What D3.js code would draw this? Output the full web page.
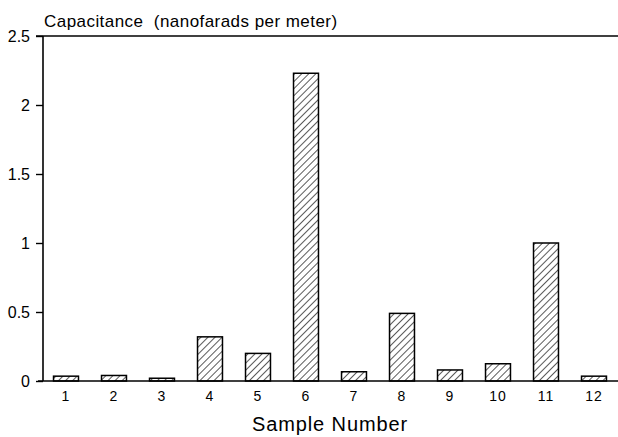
<!DOCTYPE html>
<html>
<head>
<meta charset="utf-8">
<title>Capacitance</title>
<script src="https://d3js.org/d3.v7.min.js"></script>
<style>
  body { margin: 0; background: #fff; }
  text { font-family: "Liberation Sans", Arial, sans-serif; fill: #000; }
</style>
</head>
<body>
<script>
// values
var samples = ["1", "2", "3", "4", "5", "6", "7", "8", "9", "10", "11", "12"];
var capacitance = [0.035, 0.04, 0.02, 0.32, 0.2, 2.23, 0.067, 0.49, 0.08, 0.125, 1.0, 0.035];
var yTicks = [0, 0.5, 1, 1.5, 2, 2.5];

// note: "top" is a reserved window property, so use plot* names
var width = 618, height = 437,
    plotLeft = 43, plotRight = 618, plotTop = 36, plotBottom = 381;

var svg = d3.select("body").append("svg")
  .attr("width", width)
  .attr("height", height);

// hatch pattern for the bars
svg.append("defs").append("pattern")
    .attr("id", "hatch")
    .attr("patternUnits", "userSpaceOnUse")
    .attr("width", 5)
    .attr("height", 5)
    .attr("patternTransform", "rotate(45)")
  .append("line")
    .attr("x1", 0).attr("y1", 0)
    .attr("x2", 0).attr("y2", 5)
    .attr("stroke", "#000")
    .attr("stroke-width", 1.3);

var x = d3.scaleBand()
  .domain(samples)
  .range([42, 618])
  .paddingInner(0.48)
  .paddingOuter(0.24);

var y = d3.scaleLinear()
  .domain([0, 2.5])
  .range([plotBottom, plotTop]);

// bars
svg.append("g").selectAll("rect")
  .data(capacitance)
  .enter().append("rect")
    .attr("x", function(d, i) { return x(samples[i]); })
    .attr("y", function(d) { return y(d); })
    .attr("width", x.bandwidth())
    .attr("height", function(d) { return y(0) - y(d); })
    .attr("fill", "url(#hatch)")
    .attr("stroke", "#000")
    .attr("stroke-width", 1.5);

// y axis
var yAxis = svg.append("g")
  .attr("transform", "translate(" + plotLeft + ",0)")
  .call(d3.axisLeft(y).tickValues(yTicks).tickSize(7).tickPadding(6)
    .tickFormat(function(d) { return d; }));
yAxis.select(".domain").remove();
yAxis.selectAll("line").attr("stroke-width", 1.4);
yAxis.selectAll("text").style("font-size", "16px");

svg.append("line")
  .attr("x1", plotLeft).attr("x2", plotLeft)
  .attr("y1", plotTop).attr("y2", plotBottom)
  .attr("stroke", "#000").attr("stroke-width", 1.6);

// top frame line
svg.append("line")
  .attr("x1", 36).attr("x2", plotRight)
  .attr("y1", plotTop).attr("y2", plotTop)
  .attr("stroke", "#000").attr("stroke-width", 1.4);

// x axis
var xAxis = svg.append("g")
  .attr("transform", "translate(0," + plotBottom + ")")
  .call(d3.axisBottom(x).tickSize(0).tickPadding(10));
xAxis.select(".domain").remove();
xAxis.selectAll("text")
  .style("font-size", "14px")
  .style("letter-spacing", "1px");

svg.append("line")
  .attr("x1", 38).attr("x2", plotRight)
  .attr("y1", plotBottom).attr("y2", plotBottom)
  .attr("stroke", "#000").attr("stroke-width", 1.6);

// titles
svg.append("text")
  .attr("x", 44).attr("y", 27)
  .style("font-size", "17px")
  .style("letter-spacing", "0.45px")
  .attr("xml:space", "preserve")
  .text("Capacitance  (nanofarads per meter)");

svg.append("text")
  .attr("x", 330).attr("y", 431)
  .attr("text-anchor", "middle")
  .style("font-size", "20px")
  .style("letter-spacing", "0.9px")
  .text("Sample Number");
</script>
</body>
</html>
